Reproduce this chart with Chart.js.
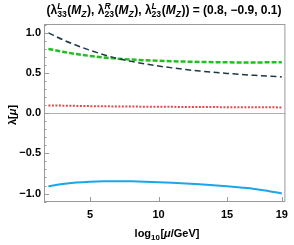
<!DOCTYPE html>
<html>
<head>
<meta charset="utf-8">
<script src="https://cdn.jsdelivr.net/npm/chart.js@4.4.0/dist/chart.umd.min.js"></script>
<style>
  html, body { margin: 0; padding: 0; background: #fff; }
</style>
</head>
<body>
<canvas id="rgeChart" width="294" height="245"></canvas>
<script>
// log10(mu/GeV) sample points, from M_Z up to 10^19 GeV
const logMu = [1.96, 3, 4, 5, 6, 7, 8, 9, 10, 11, 12, 13, 14, 15, 16, 17, 18, 19]

// running couplings
const lamDark  = [1.000, 0.915, 0.845, 0.783, 0.728, 0.681, 0.645, 0.614, 0.587, 0.564, 0.543, 0.525, 0.509, 0.495, 0.482, 0.471, 0.461, 0.452]
const lamGreen = [0.800, 0.765, 0.736, 0.713, 0.693, 0.679, 0.668, 0.659, 0.652, 0.646, 0.642, 0.638, 0.635, 0.633, 0.632, 0.632, 0.633, 0.635]
const lamRed   = [0.097, 0.094, 0.091, 0.088, 0.086, 0.084, 0.083, 0.081, 0.080, 0.079, 0.078, 0.077, 0.076, 0.075, 0.074, 0.073, 0.073, 0.072]
const lamBlue  = [-0.909, -0.880, -0.862, -0.852, -0.847, -0.846, -0.848, -0.852, -0.858, -0.865, -0.874, -0.885, -0.897, -0.910, -0.925, -0.942, -0.968, -0.998]

const xTicks = [5, 10, 15, 19]

const FONT = '"Liberation Sans", Arial, sans-serif'
const frameColor = '#9a9a9a'

function toPoints(ys) {
    return logMu.map((x, i) => ({ x: x, y: ys[i] }))
}

function fontOf(size, italic) {
    return (italic ? 'italic ' : '') + 'bold ' + size + 'px ' + FONT
}

// tiny rich text: parts are {t, it} or {sup, sub, subIt} (stacked scripts)
function partWidth(ctx, p, size) {
    if (p.sup !== undefined || p.sub !== undefined) {
        let w = 0
        if (p.sup) { ctx.font = fontOf(size * 0.72, true); w = Math.max(w, ctx.measureText(p.sup).width) }
        if (p.sub) { ctx.font = fontOf(size * 0.72, p.subIt); w = Math.max(w, ctx.measureText(p.sub).width) }
        return w + 0.5
    }
    ctx.font = fontOf(size, p.it)
    return ctx.measureText(p.t).width
}

function drawRich(ctx, parts, cx, baseline, size) {
    let total = 0
    for (let p of parts) total += partWidth(ctx, p, size)
    let x = cx - total / 2
    ctx.textAlign = 'left'
    ctx.textBaseline = 'alphabetic'
    ctx.fillStyle = '#000'
    for (let p of parts) {
        const w = partWidth(ctx, p, size)
        if (p.sup !== undefined || p.sub !== undefined) {
            if (p.sup) {
                ctx.font = fontOf(size * 0.72, true)
                ctx.fillText(p.sup, x, baseline - size * 0.38)
            }
            if (p.sub) {
                ctx.font = fontOf(size * 0.72, p.subIt)
                ctx.fillText(p.sub, x, baseline + size * 0.25)
            }
        } else {
            ctx.font = fontOf(size, p.it)
            ctx.fillText(p.t, x, baseline)
        }
        x += w
    }
}

const titleParts = [
    { t: '(' }, { t: 'λ' }, { sup: 'L', sub: '33' }, { t: '(' }, { t: 'M', it: true }, { sub: 'Z', subIt: true }, { t: '), ' },
    { t: 'λ' }, { sup: 'R', sub: '23' }, { t: '(' }, { t: 'M', it: true }, { sub: 'Z', subIt: true }, { t: '), ' },
    { t: 'λ' }, { sup: 'L', sub: '23' }, { t: '(' }, { t: 'M', it: true }, { sub: 'Z', subIt: true }, { t: ')) = (0.8, −0.9, 0.1)' }
]
const xLabelParts = [{ t: 'log' }, { sub: '10' }, { t: '[' }, { t: 'μ', it: true }, { t: '/GeV]' }]
const yLabelParts = [{ t: 'λ[' }, { t: 'μ', it: true }, { t: ']' }]

const framePlugin = {
    id: 'framePlugin',
    afterDraw(chart) {
        const ctx = chart.ctx
        const area = chart.chartArea
        const xs = chart.scales.x
        const ys = chart.scales.y
        ctx.save()
        ctx.strokeStyle = frameColor
        ctx.lineWidth = 1
        ctx.strokeRect(area.left + 0.5, area.top + 0.5, area.right - area.left - 1, area.bottom - area.top - 1)

        // inward tick marks
        ctx.beginPath()
        for (let t of xs.ticks) {
            const px = Math.round(xs.getPixelForValue(t.value)) + 0.5
            ctx.moveTo(px, area.bottom)
            ctx.lineTo(px, area.bottom - 5)
        }
        for (let t of ys.ticks) {
            const py = Math.round(ys.getPixelForValue(t.value)) + 0.5
            const major = Math.abs(t.value * 2 - Math.round(t.value * 2)) < 1e-6
            ctx.moveTo(area.left, py)
            ctx.lineTo(area.left + (major ? 5 : 2.5), py)
        }
        ctx.stroke()

        drawRich(ctx, titleParts, 164, 14, 12)
        drawRich(ctx, xLabelParts, 167, 237, 11)

        ctx.translate(12, 115)
        ctx.rotate(-Math.PI / 2)
        drawRich(ctx, yLabelParts, 0, 4, 11)
        ctx.restore()
    }
}

new Chart(document.getElementById('rgeChart'), {
    type: 'line',
    data: {
        datasets: [
            {
                data: toPoints(lamDark),
                borderColor: '#1c3a44',
                borderWidth: 1.5,
                borderDash: [6, 3.5]
            },
            {
                data: toPoints(lamGreen),
                borderColor: '#22bf22',
                borderWidth: 2.5,
                borderDash: [5, 2]
            },
            {
                data: toPoints(lamRed),
                borderColor: '#e4474a',
                borderWidth: 2,
                borderDash: [2, 1.5]
            },
            {
                data: toPoints(lamBlue),
                borderColor: '#1aa6ea',
                borderWidth: 2
            }
        ]
    },
    options: {
        responsive: false,
        animation: false,
        layout: { padding: { top: 24, right: 4, left: 0, bottom: 0 } },
        elements: {
            point: { radius: 0 },
            line: { tension: 0.4, cubicInterpolationMode: 'monotone', fill: false }
        },
        plugins: {
            legend: { display: false },
            tooltip: { enabled: false }
        },
        scales: {
            x: {
                type: 'linear',
                min: 1.64,
                max: 19.26,
                afterBuildTicks: (scale) => { scale.ticks = xTicks.map(v => ({ value: v })) },
                afterFit: (scale) => { scale.height = 43 },
                grid: { display: false, drawTicks: false },
                border: { display: false },
                ticks: {
                    autoSkip: false,
                    maxRotation: 0,
                    padding: 6,
                    color: '#000',
                    font: { family: FONT, size: 11, weight: 'bold' },
                    callback: (v) => String(v)
                }
            },
            y: {
                type: 'linear',
                min: -1.105,
                max: 1.11,
                afterBuildTicks: (scale) => {
                    const ticks = []
                    for (let i = -11; i <= 11; i++) ticks.push({ value: i / 10 })
                    scale.ticks = ticks
                },
                afterFit: (scale) => { scale.width = 44 },
                grid: {
                    drawTicks: false,
                    lineWidth: 1,
                    color: (c) => (c.tick && Math.abs(c.tick.value) < 1e-9) ? '#b0b0b0' : 'rgba(0,0,0,0)'
                },
                border: { display: false },
                ticks: {
                    autoSkip: false,
                    padding: 3,
                    color: '#000',
                    font: { family: FONT, size: 11, weight: 'bold' },
                    callback: (v) => {
                        if (Math.abs(v * 2 - Math.round(v * 2)) > 1e-6) return ''
                        return (v < 0 ? '−' : '') + Math.abs(v).toFixed(1)
                    }
                }
            }
        }
    },
    plugins: [framePlugin]
})
</script>
</body>
</html>
